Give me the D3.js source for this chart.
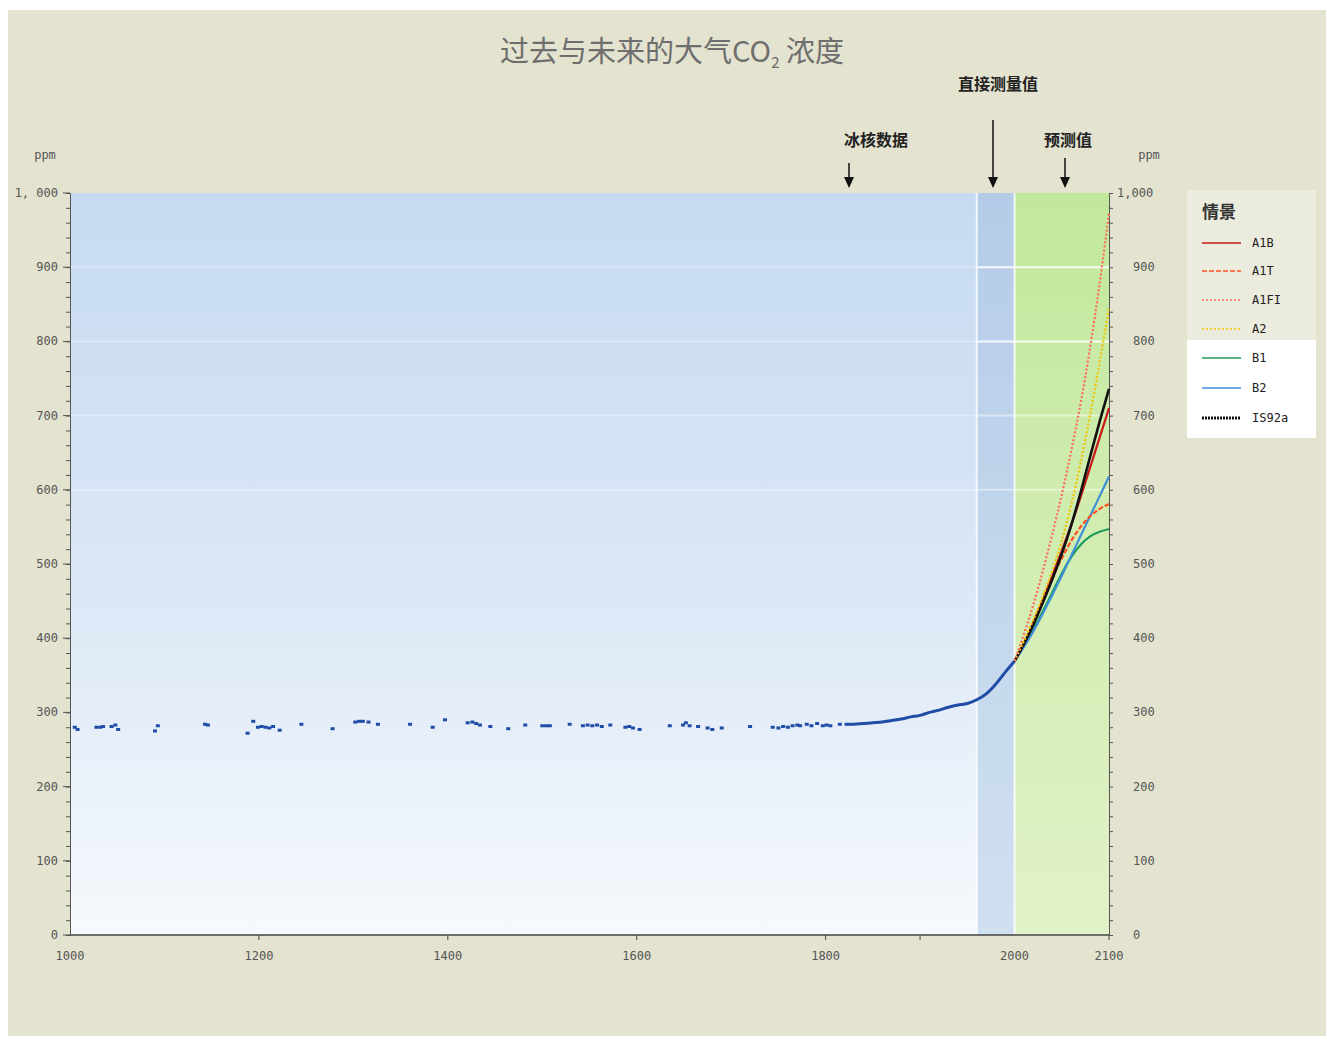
<!DOCTYPE html>
<html>
<head>
<meta charset="utf-8">
<script src="https://cdn.jsdelivr.net/npm/d3@7"></script>
<style>
  body { margin: 0; background: #fff; }
  svg { display: block; }
</style>
</head>
<body>
<svg id="chart" width="1327" height="1040"></svg>
<script>
// ice core samples (year, ppm)
const iceYears = [1005, 1008, 1028, 1032, 1035, 1044, 1048, 1051, 1090, 1093, 1143, 1146, 1188, 1194, 1199, 1203, 1207, 1211, 1215, 1222, 1245, 1278, 1302, 1306, 1310, 1316, 1326, 1360, 1384, 1397, 1421, 1426, 1430, 1434, 1445, 1464, 1482, 1500, 1504, 1508, 1529, 1543, 1548, 1553, 1558, 1563, 1572, 1588, 1592, 1596, 1603, 1635, 1649, 1652, 1656, 1665, 1675, 1680, 1690, 1720, 1744, 1750, 1755, 1760, 1765, 1770, 1773, 1780, 1785, 1791, 1797, 1801, 1805, 1815]
const iceValues = [280, 277, 280, 280, 281, 281, 283, 277, 275, 282, 284, 283, 272, 288, 280, 281, 280, 279, 281, 276, 284, 278, 287, 288, 288, 287, 284, 284, 280, 290, 286, 287, 285, 283, 281, 278, 283, 282, 282, 282, 284, 282, 283, 282, 283, 281, 283, 280, 281, 279, 277, 282, 283, 286, 282, 281, 279, 277, 279, 281, 280, 279, 281, 280, 282, 283, 282, 284, 282, 285, 282, 283, 282, 284]

// ice core + direct measurements, continuous part
const measuredYears = [1820, 1830, 1840, 1850, 1860, 1870, 1880, 1890, 1900, 1910, 1920, 1930, 1940, 1950, 1960, 1970, 1980, 1990, 2000]
const measuredValues = [284, 284, 285, 286, 287, 289, 291, 294, 296, 300, 303, 307, 310, 312, 317, 325, 338, 354, 369]

// projections
const scenarioYears = [2000, 2010, 2020, 2030, 2040, 2050, 2060, 2070, 2080, 2090, 2100]
const a1b   = [369, 392, 420, 451, 484, 518, 552, 590, 630, 670, 710]
const a1t   = [369, 393, 421, 451, 481, 508, 532, 551, 565, 575, 581]
const a1fi  = [369, 405, 445, 490, 540, 592, 652, 715, 790, 875, 972]
const a2    = [369, 396, 425, 456, 491, 530, 578, 636, 700, 770, 846]
const b1    = [369, 390, 412, 436, 462, 488, 510, 527, 538, 544, 547]
const b2    = [369, 388, 409, 433, 458, 484, 511, 538, 565, 591, 618]
const is92a = [369, 392, 418, 448, 479, 513, 551, 596, 645, 692, 736]

const scenarioNames = ["A1B", "A1T", "A1FI", "A2", "B1", "B2", "IS92a"]
const scenarioValues = [a1b, a1t, a1fi, a2, b1, b2, is92a]
const scenarioColors = ["#c81818", "#ff5020", "#ff6a5a", "#f2c400", "#1f9a5a", "#3f8fd8", "#111111"]
const scenarioDash = [null, "5,2", "2,2", "2,2", null, null, null]

const yTicks = [0, 100, 200, 300, 400, 500, 600, 700, 800, 900, 1000]
const xTickLabels = [1000, 1200, 1400, 1600, 1800, 2000, 2100]
const xTickMarks = [1200, 1400, 1600, 1800, 1900, 2100]

const svg = d3.select("#chart")
const fontCJK = "'Noto Sans CJK SC', 'Noto Sans', sans-serif"
const fontTick = "'DejaVu Sans Mono', monospace"

const x = d3.scaleLinear().domain([1000, 2100]).range([70, 1109])
const y = d3.scaleLinear().domain([0, 1000]).range([935, 193])

// page background
svg.append("rect")
  .attr("x", 8).attr("y", 10).attr("width", 1318).attr("height", 1026)
  .attr("fill", "#e3e3cf")

const defs = svg.append("defs")
const gBlue = defs.append("linearGradient").attr("id", "gBlue")
  .attr("x1", 0).attr("y1", 0).attr("x2", 0).attr("y2", 1)
gBlue.append("stop").attr("offset", "0%").attr("stop-color", "#c6daf2")
gBlue.append("stop").attr("offset", "55%").attr("stop-color", "#dce8f6")
gBlue.append("stop").attr("offset", "100%").attr("stop-color", "#f6f9fd")

const gDark = defs.append("linearGradient").attr("id", "gDark")
  .attr("x1", 0).attr("y1", 0).attr("x2", 0).attr("y2", 1)
gDark.append("stop").attr("offset", "0%").attr("stop-color", "#b5cce8")
gDark.append("stop").attr("offset", "100%").attr("stop-color", "#cfe0f0")

const gGreen = defs.append("linearGradient").attr("id", "gGreen")
  .attr("x1", 0).attr("y1", 0).attr("x2", 0).attr("y2", 1)
gGreen.append("stop").attr("offset", "0%").attr("stop-color", "#c2e89c")
gGreen.append("stop").attr("offset", "100%").attr("stop-color", "#e2f2c8")

// plot bands
svg.append("rect")
  .attr("x", x(1000)).attr("y", y(1000))
  .attr("width", x(1960) - x(1000)).attr("height", y(0) - y(1000))
  .attr("fill", "url(#gBlue)")
svg.append("rect")
  .attr("x", x(1960)).attr("y", y(1000))
  .attr("width", x(2000) - x(1960)).attr("height", y(0) - y(1000))
  .attr("fill", "url(#gDark)")
svg.append("rect")
  .attr("x", x(2000)).attr("y", y(1000))
  .attr("width", x(2100) - x(2000)).attr("height", y(0) - y(1000))
  .attr("fill", "url(#gGreen)")

// faint grid bands: barely visible over blue, clearer over green
const gridLevels = [600, 700, 800, 900]
svg.append("g").selectAll("line")
  .data(gridLevels)
  .join("line")
  .attr("x1", x(1000)).attr("x2", x(1960))
  .attr("y1", d => y(d)).attr("y2", d => y(d))
  .attr("stroke", "#ffffff")
  .attr("stroke-opacity", 0.3)
  .attr("stroke-width", 2)
svg.append("g").selectAll("line")
  .data(gridLevels)
  .join("line")
  .attr("x1", x(1960)).attr("x2", x(2100))
  .attr("y1", d => y(d)).attr("y2", d => y(d))
  .attr("stroke", "#ffffff")
  .attr("stroke-opacity", d => d >= 800 ? 0.85 : 0.45)
  .attr("stroke-width", 2)

svg.append("g").selectAll("line")
  .data([1960, 2000])
  .join("line")
  .attr("x1", d => x(d)).attr("x2", d => x(d))
  .attr("y1", y(1000)).attr("y2", y(0))
  .attr("stroke", "#ffffff").attr("stroke-opacity", 0.8).attr("stroke-width", 2)

// title
const title = svg.append("text")
  .attr("x", 672).attr("y", 62)
  .attr("text-anchor", "middle")
  .attr("font-family", fontCJK)
  .attr("font-size", 29)
  .attr("fill", "#6e6e6e")
title.append("tspan").text("过去与未来的大气CO")
title.append("tspan").attr("font-size", 15).attr("dy", 6).text("2")
title.append("tspan").attr("dy", -6).text(" 浓度")

// annotations with arrows
const notes = [
  { label: "冰核数据", tx: 876, ty: 146, ax: 849, ay0: 163 },
  { label: "直接测量值", tx: 998, ty: 90, ax: 993, ay0: 120 },
  { label: "预测值", tx: 1068, ty: 146, ax: 1065, ay0: 158 }
]
notes.forEach(n => {
  svg.append("text")
    .attr("x", n.tx).attr("y", n.ty)
    .attr("text-anchor", "middle")
    .attr("font-family", fontCJK)
    .attr("font-size", 16).attr("font-weight", "bold")
    .attr("fill", "#222")
    .text(n.label)
  svg.append("line")
    .attr("x1", n.ax).attr("x2", n.ax)
    .attr("y1", n.ay0).attr("y2", 180)
    .attr("stroke", "#111").attr("stroke-width", 1.5)
  svg.append("path")
    .attr("d", `M${n.ax - 5},177 L${n.ax + 5},177 L${n.ax},188 Z`)
    .attr("fill", "#111")
})

// axes
const minorTicks = d3.range(0, 1001, 20)

const leftAxis = d3.axisLeft(y).tickValues(minorTicks).tickSize(4).tickFormat("")
svg.append("g").attr("transform", `translate(${x(1000)},0)`).call(leftAxis)
  .call(g => g.selectAll("path, line").attr("stroke", "#555"))
svg.append("g").selectAll("text")
  .data(yTicks)
  .join("text")
  .attr("x", 58).attr("y", d => y(d) + 4)
  .attr("text-anchor", "end")
  .attr("font-family", fontTick).attr("font-size", 12)
  .attr("fill", "#555")
  .text(d => d === 1000 ? "1, 000" : d)
svg.append("g").selectAll("line")
  .data(yTicks)
  .join("line")
  .attr("x1", x(1000) - 7).attr("x2", x(1000))
  .attr("y1", d => y(d)).attr("y2", d => y(d))
  .attr("stroke", "#555")

const rightAxis = d3.axisRight(y).tickValues(minorTicks).tickSize(4).tickFormat("")
svg.append("g").attr("transform", `translate(${x(2100)},0)`).call(rightAxis)
  .call(g => g.selectAll("path, line").attr("stroke", "#555"))
svg.append("g").selectAll("text")
  .data(yTicks)
  .join("text")
  .attr("x", d => d === 1000 ? 1117 : 1133).attr("y", d => y(d) + 4)
  .attr("text-anchor", "start")
  .attr("font-family", fontTick).attr("font-size", 12)
  .attr("fill", "#555")
  .text(d => d === 1000 ? "1,000" : d)

svg.append("line")
  .attr("x1", x(1000)).attr("x2", x(2100))
  .attr("y1", y(0)).attr("y2", y(0))
  .attr("stroke", "#444").attr("stroke-width", 1.5)
svg.append("g").selectAll("line")
  .data(xTickMarks)
  .join("line")
  .attr("x1", d => x(d)).attr("x2", d => x(d))
  .attr("y1", y(0)).attr("y2", y(0) + 5)
  .attr("stroke", "#444")
svg.append("g").selectAll("text")
  .data(xTickLabels)
  .join("text")
  .attr("x", d => x(d)).attr("y", 960)
  .attr("text-anchor", "middle")
  .attr("font-family", fontTick).attr("font-size", 12)
  .attr("fill", "#555")
  .text(d => d)

svg.append("text").attr("x", 45).attr("y", 159).attr("text-anchor", "middle")
  .attr("font-family", fontTick).attr("font-size", 12).attr("fill", "#555").text("ppm")
svg.append("text").attr("x", 1149).attr("y", 159).attr("text-anchor", "middle")
  .attr("font-family", fontTick).attr("font-size", 12).attr("fill", "#555").text("ppm")

// scenario lines
const line = d3.line()
  .x(d => x(d[0]))
  .y(d => y(d[1]))
  .curve(d3.curveMonotoneX)

const smooth = d3.line()
  .x(d => x(d[0]))
  .y(d => y(d[1]))
  .curve(d3.curveBasis)

const order = [4, 5, 1, 0, 6, 3, 2]
order.forEach(i => {
  svg.append("path")
    .datum(scenarioYears.map((yr, k) => [yr, scenarioValues[i][k]]))
    .attr("d", smooth)
    .attr("fill", "none")
    .attr("stroke", scenarioColors[i])
    .attr("stroke-width", i === 6 ? 2.6 : 2.2)
    .attr("stroke-dasharray", scenarioDash[i])
})

// observed CO2
const dotColor = "#1e4ca6"
svg.append("path")
  .datum(measuredYears.map((yr, k) => [yr, measuredValues[k]]))
  .attr("d", line)
  .attr("fill", "none")
  .attr("stroke", dotColor)
  .attr("stroke-width", 3)

svg.append("g").selectAll("rect")
  .data(iceYears.map((yr, k) => [yr, iceValues[k]]))
  .join("rect")
  .attr("x", d => x(d[0]) - 2).attr("y", d => y(d[1]) - 1.5)
  .attr("width", 4).attr("height", 3)
  .attr("fill", dotColor)

// legend
svg.append("rect").attr("x", 1187).attr("y", 190).attr("width", 129).attr("height", 150)
  .attr("fill", "#ececde")
svg.append("rect").attr("x", 1187).attr("y", 340).attr("width", 129).attr("height", 98)
  .attr("fill", "#ffffff")
svg.append("text").attr("x", 1202).attr("y", 218)
  .attr("font-family", fontCJK).attr("font-size", 17).attr("font-weight", "bold")
  .attr("fill", "#333").text("情景")

const legendY = [243, 271, 300, 329, 358, 388, 418]
scenarioNames.forEach((name, i) => {
  const row = svg.append("g").attr("transform", `translate(1202, ${legendY[i]})`)
  row.append("line")
    .attr("x1", 0).attr("x2", 39).attr("y1", 0).attr("y2", 0)
    .attr("stroke", scenarioColors[i])
    .attr("stroke-width", i === 6 ? 3 : 1.6)
    .attr("stroke-dasharray", i === 6 ? "2,1" : scenarioDash[i])
  row.append("text")
    .attr("x", 50).attr("y", 4)
    .attr("font-family", fontTick).attr("font-size", 12)
    .attr("fill", "#222")
    .text(name)
})
</script>
</body>
</html>
